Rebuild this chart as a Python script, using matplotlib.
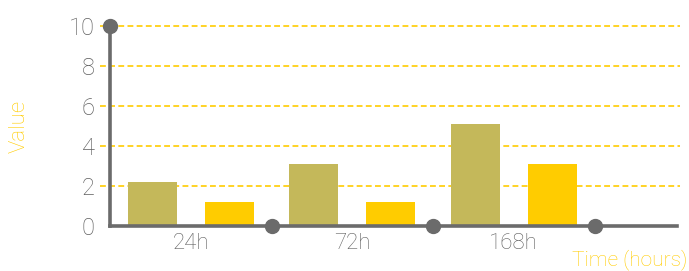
import matplotlib
matplotlib.use("Agg")
import matplotlib.pyplot as plt
import numpy as np

categories = ["24h", "72h", "168h"]
series_a = [2.2, 3.1, 5.1]
series_b = [1.2, 1.2, 3.1]
y_ticks = [0, 2, 4, 6, 8, 10]

plt.rcParams['font.family'] = ['Roboto', 'DejaVu Sans']

gray = '#6b6b6b'
text_gray = '#5e5e5e'
olive = '#c4b85a'
yellow = '#ffcc00'

fig = plt.figure(figsize=(6.89, 2.71), dpi=100)
ax = fig.add_axes([110 / 689, 45 / 271, 567 / 689, 200 / 271])

x = np.arange(len(categories)) + 0.5
w = 0.303
ax.bar(x - 0.238, series_a, width=w, color=olive, zorder=2)
ax.bar(x + 0.238, series_b, width=w, color=yellow, zorder=2)

# dashed grid lines, slightly past the y axis
for t in y_ticks[1:]:
    ax.plot([-0.062, 3.53], [t, t], color=yellow, lw=1.2, ls=(0, (3.5, 2)),
            clip_on=False, zorder=1)

ax.set_xlim(0, 3.51)
ax.set_ylim(0, 10)
for s in ['top', 'right']:
    ax.spines[s].set_visible(False)
for s in ['left', 'bottom']:
    ax.spines[s].set_color(gray)
    ax.spines[s].set_linewidth(2.6)
    ax.spines[s].set_zorder(3)

ax.set_yticks(y_ticks)
ax.set_yticklabels([str(t) for t in y_ticks], fontsize=17, color=text_gray,
                   fontweight='light')
ax.set_xticks(x)
ax.set_xticklabels(categories, fontsize=16, color=text_gray, fontweight='light')
ax.tick_params(axis='both', length=0)
ax.tick_params(axis='y', pad=11)
ax.tick_params(axis='x', pad=5)

# round markers on the axes
ax.plot([0, 1, 2, 3], [10, 0, 0, 0], 'o', color=gray, ms=10, ls='none',
        clip_on=False, zorder=4)

fig.text(19 / 689, 0.535, "Value", rotation=90, color=yellow, fontsize=16,
         fontweight='light', ha='center', va='center')
fig.text(687 / 689, 1 / 271, "Time (hours)", color=yellow, fontsize=15,
         fontweight='light', ha='right', va='bottom')

fig.savefig("out.png", dpi=100)
